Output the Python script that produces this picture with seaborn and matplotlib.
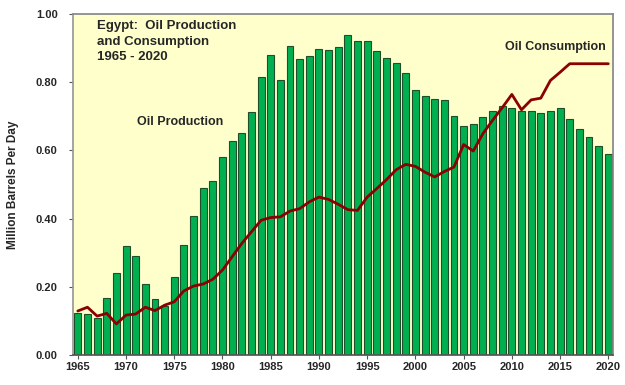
import numpy as np
import pandas as pd
import matplotlib
matplotlib.use("Agg")
import matplotlib.pyplot as plt
import seaborn as sns

# =========================
# Data
# =========================
years = list(range(1965, 2021))

production = [
    0.124, 0.120, 0.107, 0.166, 0.239, 0.319, 0.290, 0.207, 0.164, 0.143,
    0.229, 0.322, 0.407, 0.490, 0.509, 0.580, 0.627, 0.651, 0.711, 0.815,
    0.881, 0.807, 0.907, 0.867, 0.877, 0.896, 0.894, 0.904, 0.939, 0.920,
    0.922, 0.892, 0.871, 0.857, 0.826, 0.778, 0.759, 0.751, 0.749, 0.700,
    0.672, 0.678, 0.698, 0.715, 0.729, 0.725, 0.714, 0.716, 0.709, 0.714,
    0.725, 0.692, 0.663, 0.638, 0.613, 0.588,
]

consumption = [
    0.129, 0.140, 0.114, 0.122, 0.091, 0.117, 0.120, 0.140, 0.130, 0.146,
    0.156, 0.188, 0.202, 0.208, 0.222, 0.249, 0.288, 0.327, 0.361, 0.395,
    0.403, 0.405, 0.422, 0.429, 0.449, 0.463, 0.456, 0.442, 0.426, 0.424,
    0.463, 0.488, 0.514, 0.543, 0.559, 0.553, 0.536, 0.522, 0.538, 0.551,
    0.617, 0.598, 0.649, 0.688, 0.725, 0.764, 0.719, 0.748, 0.753, 0.805,
    0.829, 0.854, 0.854, 0.854, 0.854, 0.854,
]

yticks = [0.0, 0.2, 0.4, 0.6, 0.8, 1.0]
xlabel_years = list(range(1965, 2021, 5))

# =========================
# Plot
# =========================
sns.set_theme(style="white")
plt.rcParams["font.family"] = ["Liberation Sans", "DejaVu Sans"]

df = pd.DataFrame({"year": years, "production": production, "consumption": consumption})
df["pos"] = np.arange(len(df))

fig = plt.figure(figsize=(6.25, 3.85), dpi=100)
ax = fig.add_axes([0.1168, 0.078, 0.8642, 0.8858])
ax.set_facecolor("#FFFFCC")

sns.barplot(data=df, x="pos", y="production", color="#00B050", saturation=1,
            width=0.72, edgecolor="#1F4F2A", linewidth=0.8, ax=ax, native_scale=True)
sns.lineplot(data=df, x="pos", y="consumption", color="#8B0000", linewidth=2.0, ax=ax)

ax.set_xlim(-0.5, len(years) - 0.5)
ax.set_ylim(0, 1.0)

tick_pos = [years.index(y) for y in xlabel_years]
ax.set_xticks(tick_pos)
ax.set_xticklabels([str(y) for y in xlabel_years], fontsize=8, fontweight="bold")
ax.set_yticks(yticks)
ax.set_yticklabels([f"{v:.2f}" for v in yticks], fontsize=8, fontweight="bold")
ax.tick_params(axis="both", length=3, width=0.8, color="#555555", pad=2,
               bottom=True, left=True)
ax.tick_params(axis="y", pad=8)

ax.set_xlabel("")
ax.set_ylabel("Million Barrels Per Day", fontsize=8.5, fontweight="bold", labelpad=12)

for s in ["top", "right"]:
    ax.spines[s].set_linestyle((0, (1, 1)))
    ax.spines[s].set_color("#888888")
ax.spines["left"].set_color("#999999")
ax.spines["bottom"].set_color("#555555")

ax.text(2.0, 0.982, "Egypt:  Oil Production\nand Consumption\n1965 - 2020",
        fontsize=9.5, fontweight="bold", va="top", ha="left", linespacing=1.4)
ax.text(6.1, 0.682, "Oil Production", fontsize=9, fontweight="bold", va="center", ha="left")
ax.text(44.3, 0.904, "Oil Consumption", fontsize=9, fontweight="bold", va="center", ha="left")

fig.savefig("out.png", dpi=100, facecolor="white")
plt.close(fig)
